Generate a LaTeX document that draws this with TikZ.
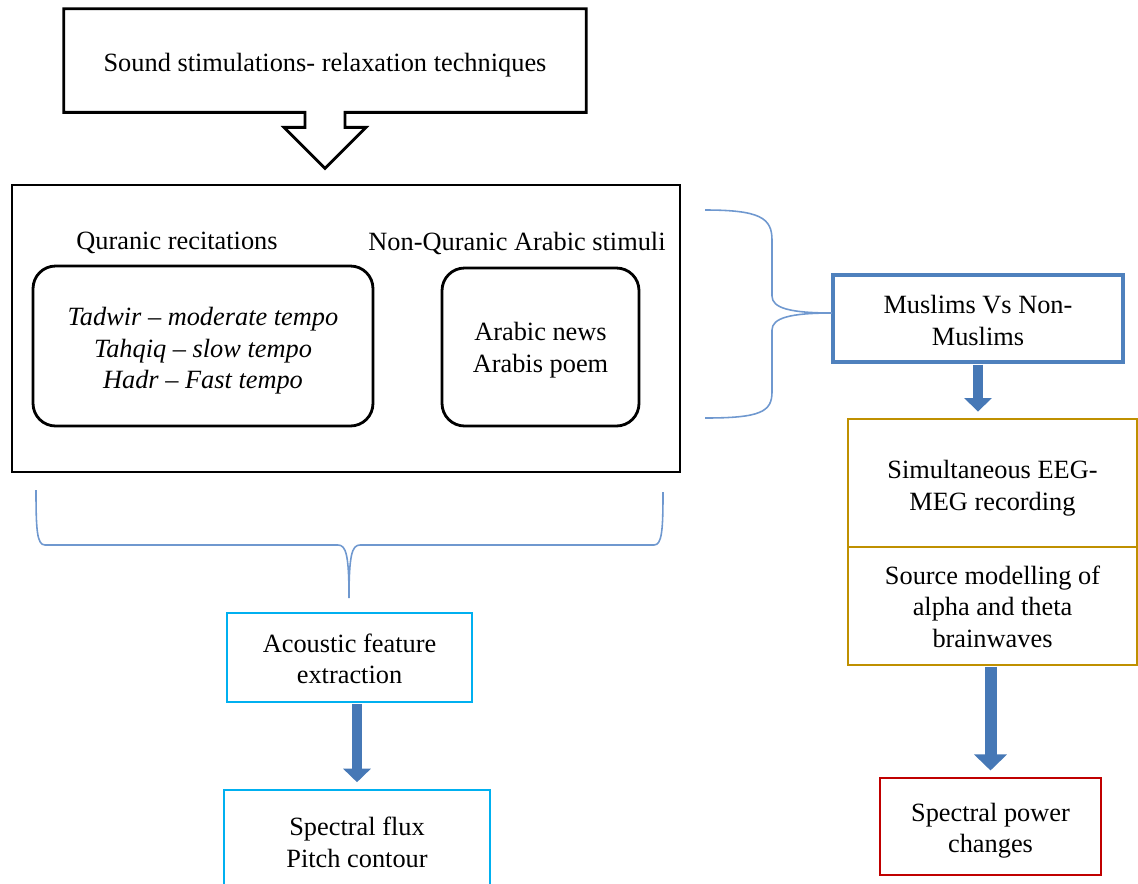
\documentclass[tikz,border=0pt]{standalone}
\usepackage{fontspec}
\setmainfont{Liberation Serif}
\usepackage{tikz}
\usetikzlibrary{arrows.meta,positioning}
\definecolor{bracecolor}{RGB}{111,152,207}
\definecolor{groupcolor}{RGB}{79,129,189}
\definecolor{arrowcolor}{RGB}{70,120,182}
\definecolor{recordcolor}{RGB}{191,144,0}
\definecolor{featurecolor}{RGB}{0,176,240}
\definecolor{resultcolor}{RGB}{192,0,0}
% text set a little lower inside its box, box size unchanged
\newcommand{\lowered}[2][2.3pt]{\raisebox{-#1}[\height][\depth]{\begin{tabular}{@{}c@{}}#2\end{tabular}}}

\begin{document}
\begin{tikzpicture}[
    x=0.02cm, y=-0.02cm,
    every node/.style={font=\fontsize{15}{18}\selectfont, align=center, inner sep=0pt},
    box/.style={rectangle, draw, line width=1.2pt},
    stimbox/.style={box, line width=1.6pt},
    round/.style={box, rounded corners=0.45cm, line width=1.6pt},
    groupbox/.style={box, draw=groupcolor, line width=1.8pt},
    record/.style={box, draw=recordcolor, line width=1.1pt},
    feature/.style={box, draw=featurecolor, line width=1.5pt},
    result/.style={box, draw=resultcolor, line width=1.2pt},
    brace/.style={draw=bracecolor, line width=0.9pt},
    callout/.style={draw, line width=1.6pt, line join=miter},
    blockarrow/.style={line width=0.21cm, draw=arrowcolor, -{Triangle[width=0.54cm, length=0.27cm, fill=arrowcolor]}, shorten >=0.13cm, shorten <=0.02cm}
]
    \useasboundingbox (0,0) rectangle (1138,883);

    % Input
    \node[minimum width=10.44cm, minimum height=2.06cm] (sound) at (325,60.5) {\lowered[2.8pt]{Sound stimulations- relaxation techniques}};
    \draw[callout] (sound.north west) -- (sound.north east) -- (sound.south east)
        -- ([shift={(20,0)}]sound.south) -- ([shift={(20,15)}]sound.south)
        -- ([shift={(41,15)}]sound.south) -- ([shift={(0,56)}]sound.south)
        -- ([shift={(-41,15)}]sound.south) -- ([shift={(-20,15)}]sound.south)
        -- ([shift={(-20,0)}]sound.south) -- (sound.south west) -- cycle;

    % Stimuli
    \node[stimbox, minimum width=13.36cm, minimum height=5.74cm] (stimuli) at (346,328.5) {};
    \node (quranlabel) at (177,243) {Quranic recitations};
    \node (arablabel) at (517,243) {Non-Quranic Arabic stimuli};
    \node[round, minimum width=6.8cm, minimum height=3.2cm] (quran) at (203,346)
        {\lowered[2.8pt]{\itshape Tadwir -- moderate tempo\\\itshape Tahqiq -- slow tempo\\\itshape Hadr -- Fast tempo}};
    \node[round, minimum width=3.94cm, minimum height=3.16cm] (arab) at (540.5,347) {\lowered[1.7pt]{Arabic news\\Arabis poem}};

    % Participants
    \node[groupbox, minimum width=5.8cm, minimum height=1.74cm] (muslims) at (978,318.5) {\lowered[2.8pt]{Muslims Vs Non-\\Muslims}};
    \coordinate (grouptip) at (832,313);
    \draw[brace] (705,210) .. controls (760,210) and (772,218) .. (772,240) -- (772,296)
        .. controls (772,308) and (790,313) .. (grouptip)
        .. controls (790,313) and (772,318) .. (772,330) -- (772,392)
        .. controls (772,412) and (760,418) .. (705,418);

    % Recording
    \node[record, minimum width=5.78cm, minimum height=2.56cm] (eeg) at (992.5,483) {\lowered[2.8pt]{Simultaneous EEG-\\MEG recording}};
    \node[record, minimum width=5.78cm, minimum height=2.36cm] (source) at (992.5,606) {\lowered[1.9pt]{Source modelling of\\alpha and theta\\brainwaves}};
    \node[result, minimum width=4.42cm, minimum height=1.94cm] (power) at (990.5,826.5) {\lowered[2.3pt]{Spectral power\\changes}};

    % Features
    \node[feature, minimum width=4.9cm, minimum height=1.78cm] (acoustic) at (349.5,657.5) {\lowered[2.3pt]{Acoustic feature\\extraction}};
    \node[feature, minimum width=5.32cm, minimum height=2.04cm] (spectral) at (357,841) {\lowered[2.3pt]{Spectral flux\\Pitch contour}};
    \coordinate (featuretip) at (349,598);
    \draw[brace] (36,490) .. controls (36,530) and (37,545) .. (45,545) -- (338,545)
        .. controls (346,545) and (349,555) .. (featuretip)
        .. controls (349,555) and (352,545) .. (360,545) -- (654,545)
        .. controls (662,545) and (663,530) .. (663,492);

    % Arrows
    \draw[blockarrow] (muslims.south) -- (muslims.south |- eeg.north);
    \draw[blockarrow, line width=0.24cm, -{Triangle[width=0.64cm, length=0.32cm, fill=arrowcolor]}] (power.north |- source.south) -- (power.north);
    \draw[blockarrow] (spectral.north |- acoustic.south) -- (spectral.north);
\end{tikzpicture}
\end{document}
